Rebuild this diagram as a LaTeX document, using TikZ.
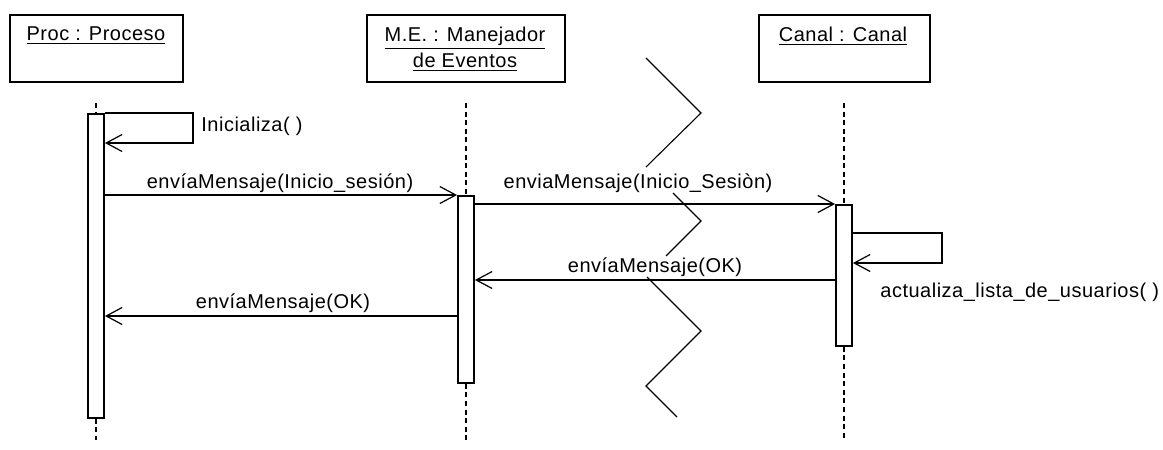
\documentclass[tikz,border=0pt]{standalone}
\usepackage{fontspec}
\setmainfont{Liberation Sans}[LetterSpace=2.5]
\usetikzlibrary{arrows.meta}
\begin{document}
\begin{tikzpicture}[x=0.5pt,y=0.5pt,yscale=-1,
  objbox/.style={draw,line width=1pt,minimum height=33.5pt,inner sep=0pt,anchor=north west},
  actbar/.style={draw,fill=white,line width=0.9pt,minimum width=8pt,inner sep=0pt,anchor=north},
  lifeline/.style={line width=0.8pt,dash pattern=on 2.5pt off 1.8pt},
  msg/.style={line width=0.75pt,-{Straight Barb[length=8pt,width=8.5pt,line width=0.6pt]}},
  txt/.style={inner sep=1pt,font=\fontsize{10}{13}\selectfont},
  zig/.style={line width=0.55pt}]
\useasboundingbox (0,0) rectangle (1163,450);

% Objects
\node[objbox,minimum width=86.5pt] (proc) at (9,14) {};
\node[objbox,minimum width=99pt] (me) at (366,14) {};
\node[objbox,minimum width=85.5pt] (canal) at (758,14) {};
% Text Node
\node[txt] (proct) at (96,36) {\underline{Proc : Proceso}};
\node[txt,align=center] (met) at (465,49) {\underline{M.E. : Manejador}\\\underline{de Eventos}};
\node[txt] (canalt) at (843,36) {\underline{Canal : Canal}};

% Activation bars
\node[actbar,minimum height=152pt] (procbar) at (96,113) {};
\node[actbar,minimum height=93.5pt] (mebar) at (466,195) {};
\node[actbar,minimum height=70.5pt] (canalbar) at (844,204) {};

% Lifelines
\draw[lifeline] (procbar.north |- 0,103) -- (procbar.north);
\draw[lifeline] (procbar.south) -- (procbar.south |- 0,440);
\draw[lifeline] (mebar.north |- 0,103) -- (mebar.north);
\draw[lifeline] (mebar.south) -- (mebar.south |- 0,440);
\draw[lifeline] (canalbar.north |- 0,103) -- (canalbar.north);
\draw[lifeline] (canalbar.south) -- (canalbar.south |- 0,440);

% Messages
\draw[msg] (procbar.north east) -- ++(88,0) -- ++(0,30) -- ++(-88,0);
\draw[msg] (procbar.east |- mebar.north) -- (mebar.north west);
\draw[msg] (mebar.east |- canalbar.north) -- (canalbar.north west);
\draw[msg] (canalbar.east |- 0,233) -- ++(89,0) -- ++(0,30) -- ++(-89,0);
\draw[msg] (canalbar.west |- 0,280) -- (mebar.east |- 0,280);
\draw[msg] (mebar.west |- 0,316) -- (procbar.east |- 0,316);

% Break marks
\draw[zig] (646,58) -- (701,113) -- (646,167);
\draw[zig] (673,193) -- (701,221) -- (666,256);
\draw[zig] (647,277) -- (701,331) -- (646,386) -- (677,417);

% Text Node
\node[txt,anchor=west] (l0) at (199,126) {Inicializa( )};
\node[txt] (l1) at (280,183) {envíaMensaje(Inicio\_sesión)};
\node[txt] (l2) at (638,183) {enviaMensaje(Inicio\_Sesiòn)};
\node[txt,anchor=west] (l3) at (878,292) {actualiza\_lista\_de\_usuarios( )};
\node[txt] (l4) at (655,267) {envíaMensaje(OK)};
\node[txt] (l5) at (283,303) {envíaMensaje(OK)};
\end{tikzpicture}
\end{document}
